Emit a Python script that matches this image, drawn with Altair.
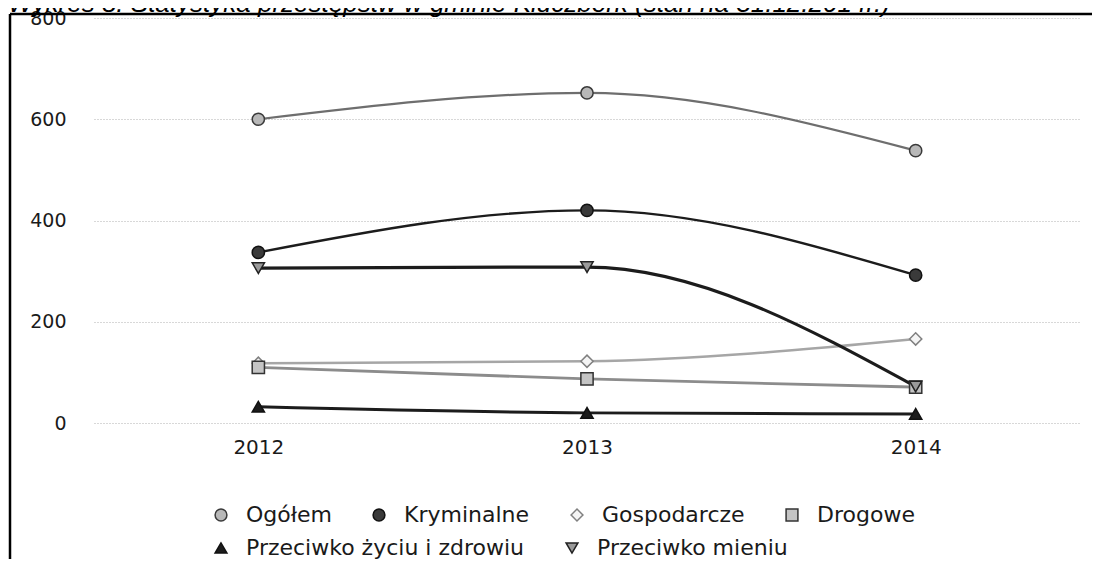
import altair as alt
import pandas as pd

years = ["2012", "2013", "2014"]
series = ["Ogółem", "Kryminalne", "Gospodarcze", "Drogowe",
          "Przeciwko życiu i zdrowiu", "Przeciwko mieniu"]
ogolem = [600, 652, 538]
kryminalne = [337, 420, 292]
gospodarcze = [118, 122, 166]
drogowe = [110, 87, 71]
zycie = [32, 20, 18]
mienie = [306, 308, 72]
y_ticks = [0, 200, 400, 600, 800]

title_text = "Wykres 8. Statystyka przestępstw w gminie Kluczbork (stan na 31.12.2014r.)"

line_colors = ["#6e6e6e", "#1c1c1c", "#a6a6a6", "#8c8c8c", "#1c1c1c", "#1c1c1c"]
fill_colors = ["#b8b8b8", "#3a3a3a", "#f4f4f4", "#c4c4c4", "#1c1c1c", "#9a9a9a"]
stroke_colors = ["#3a3a3a", "#111111", "#808080", "#333333", "#111111", "#222222"]
shapes = ["circle", "circle", "diamond", "square", "triangle-up", "triangle-down"]
widths = [2.2, 3.2, 1.8, 2.2, 2.8, 3.0]

values = [ogolem, kryminalne, gospodarcze, drogowe, zycie, mienie]
rows = []
for s, vals in zip(series, values):
    for yr, v in zip(years, vals):
        rows.append({"rok": yr, "seria": s, "liczba": v})
df = pd.DataFrame(rows)

row1 = series[:4]
row2 = series[4:]

x_enc = alt.X("rok:O", title=None, sort=years,
              axis=alt.Axis(labelAngle=0, labelFontSize=20, labelPadding=14,
                            ticks=False, domain=False, grid=False,
                            labelColor="#1a1a1a", labelFont="DejaVu Sans"))
y_enc = alt.Y("liczba:Q", title=None,
              scale=alt.Scale(domain=[0, 800], nice=False, zero=True),
              axis=alt.Axis(values=y_ticks, labelFontSize=19, labelPadding=28,
                            ticks=False, domain=False, grid=True,
                            gridColor="#b0b0b0", gridDash=[1, 2], gridWidth=1,
                            labelColor="#1a1a1a", labelFont="DejaVu Sans",
                            labelBaseline="middle"))


def make_legend(y):
    return alt.Legend(
        title=None, orient="none", legendX=116, legendY=y, direction="horizontal",
        labelFontSize=22, labelFont="DejaVu Sans", labelColor="#1a1a1a",
        symbolSize=140, symbolStrokeWidth=1.5, labelOffset=14,
        columnPadding=36, padding=0, labelLimit=400,
    )


base = alt.Chart(df)

lines = base.mark_line(interpolate="monotone").encode(
    x=x_enc,
    y=y_enc,
    detail="seria:N",
    color=alt.Color("seria:N", scale=alt.Scale(domain=series, range=line_colors), legend=None),
    strokeWidth=alt.StrokeWidth("seria:N", scale=alt.Scale(domain=series, range=widths), legend=None),
)


def point_layer(names, field, legend_y):
    idx = [series.index(n) for n in names]
    lg = make_legend(legend_y)
    return base.transform_filter(
        alt.FieldOneOfPredicate(field="seria", oneOf=names)
    ).transform_calculate(
        **{field: "datum.seria"}
    ).mark_point(filled=True, opacity=1, size=150, strokeWidth=1.5).encode(
        x=alt.X("rok:O", sort=years),
        y=alt.Y("liczba:Q"),
        shape=alt.Shape(f"{field}:N", scale=alt.Scale(domain=names, range=[shapes[i] for i in idx]), legend=lg),
        fill=alt.Fill(f"{field}:N", scale=alt.Scale(domain=names, range=[fill_colors[i] for i in idx]), legend=lg),
        stroke=alt.Stroke(f"{field}:N", scale=alt.Scale(domain=names, range=[stroke_colors[i] for i in idx]), legend=lg),
    )


points1 = point_layer(row1, "seria_a", 486)
points2 = point_layer(row2, "seria_b", 519)

frame_df = pd.DataFrame({"k": [0]})
left_line = alt.Chart(frame_df).mark_rule(color="#000000", strokeWidth=2.5).encode(
    x=alt.value(-84), y=alt.value(-4), y2=alt.value(545))
top_line = alt.Chart(frame_df).mark_rule(color="#000000", strokeWidth=2.5).encode(
    x=alt.value(-84), x2=alt.value(1010), y=alt.value(-4))

chart = alt.layer(lines, points1, points2, left_line, top_line).resolve_scale(
    shape="independent", fill="independent", stroke="independent"
).resolve_legend(
    shape="independent", fill="independent", stroke="independent"
).properties(
    width=986,
    height=405,
    autosize=alt.AutoSizeParams(type="none"),
    padding={"left": 86, "top": 10, "right": 12, "bottom": 136},
    title=alt.TitleParams(title_text, anchor="start", frame="group", dx=-86,
                          offset=0, dy=29, baseline="alphabetic",
                          font="Liberation Sans", fontSize=26, fontStyle="italic",
                          fontWeight="normal", color="#000000"),
).configure(
    background="#ffffff"
).configure_view(
    strokeWidth=0, stroke="transparent"
)

chart.save("out.html", embed_options={"renderer": "svg", "actions": False})
